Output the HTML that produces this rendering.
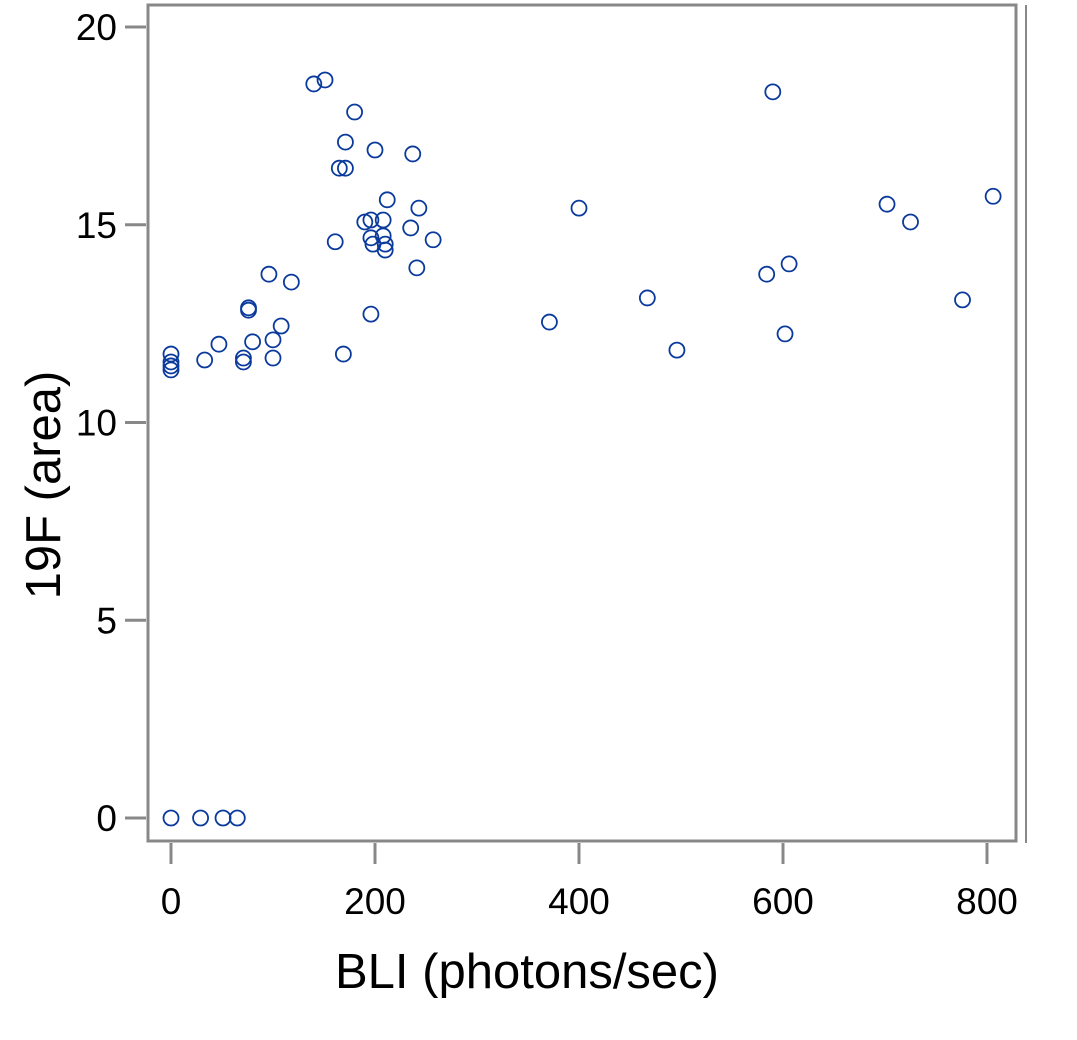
<!DOCTYPE html>
<html><head><meta charset="utf-8"><style>
body{margin:0;background:#fff;}
svg{display:block;font-family:"Liberation Sans",sans-serif;}
</style></head><body>
<svg id="chart" width="1077" height="1040">
<rect x="148" y="5" width="868" height="836" fill="none" stroke="#888" stroke-width="3"/>
<line x1="1026" y1="5" x2="1026" y2="843" stroke="#888" stroke-width="2"/>
<g id="xaxis"></g>
<g id="yaxis"></g>
<g id="points"></g>
<text x="527" y="988" font-size="49" text-anchor="middle">BLI (photons/sec)</text>
<text x="0" y="0" font-size="49" text-anchor="middle" transform="translate(60,485) rotate(-90)">19F (area)</text>
</svg>
<script>
const xTicks=[0,200,400,600,800];
const yTicks=[0,5,10,15,20];
const xVals=[0,0,0,0,33,47,71,71,76,76,80,100,100,108,96,118,140,151,180,171,165,171,200,237,161,169,190,196,196,198,208,208,210,210,212,235,243,241,257,196,371,400,467,496,590,584,606,602,702,725,776,806,0,29,51,65];
const yVals=[11.73,11.53,11.43,11.33,11.58,11.98,11.63,11.53,12.9,12.84,12.04,12.09,11.63,12.44,13.75,13.55,18.56,18.66,17.85,17.09,16.43,16.43,16.89,16.79,14.57,11.73,15.07,15.12,14.67,14.51,15.12,14.72,14.51,14.36,15.63,14.92,15.42,13.91,14.62,12.74,12.54,15.42,13.15,11.83,18.36,13.75,14.01,12.24,15.52,15.07,13.1,15.72,0,0,0,0];
const NS="http://www.w3.org/2000/svg";
const sx=v=>171+v*1.02;
const sy=v=>818-v*39.55;
function mk(t,a,p){const e=document.createElementNS(NS,t);for(const k in a)e.setAttribute(k,a[k]);p.appendChild(e);return e;}
const xa=document.getElementById('xaxis'),ya=document.getElementById('yaxis'),pg=document.getElementById('points');
xTicks.forEach(t=>{
 const l=mk('line',{x1:sx(t),x2:sx(t),y1:843,y2:864,stroke:'#888','stroke-width':3},xa);
 
 
 const tx=mk('text',{x:sx(t),y:914,'font-size':37,'text-anchor':'middle'},xa);
 tx.textContent=t;
 
 
});
yTicks.forEach(t=>{
 const l=mk('line',{x1:125,x2:146,y1:sy(t),y2:sy(t),stroke:'#888','stroke-width':3},ya);
 
 
 const tx=mk('text',{x:117,y:sy(t)+13,'font-size':37,'text-anchor':'end'},ya);
 tx.textContent=t;
 
 
});
xVals.forEach((v,i)=>{
 const c=mk('circle',{cx:sx(v),cy:sy(yVals[i]),r:7.5,fill:'none',stroke:'#0a3a9c','stroke-width':1.8},pg);
 
 
});
</script>
</body></html>
